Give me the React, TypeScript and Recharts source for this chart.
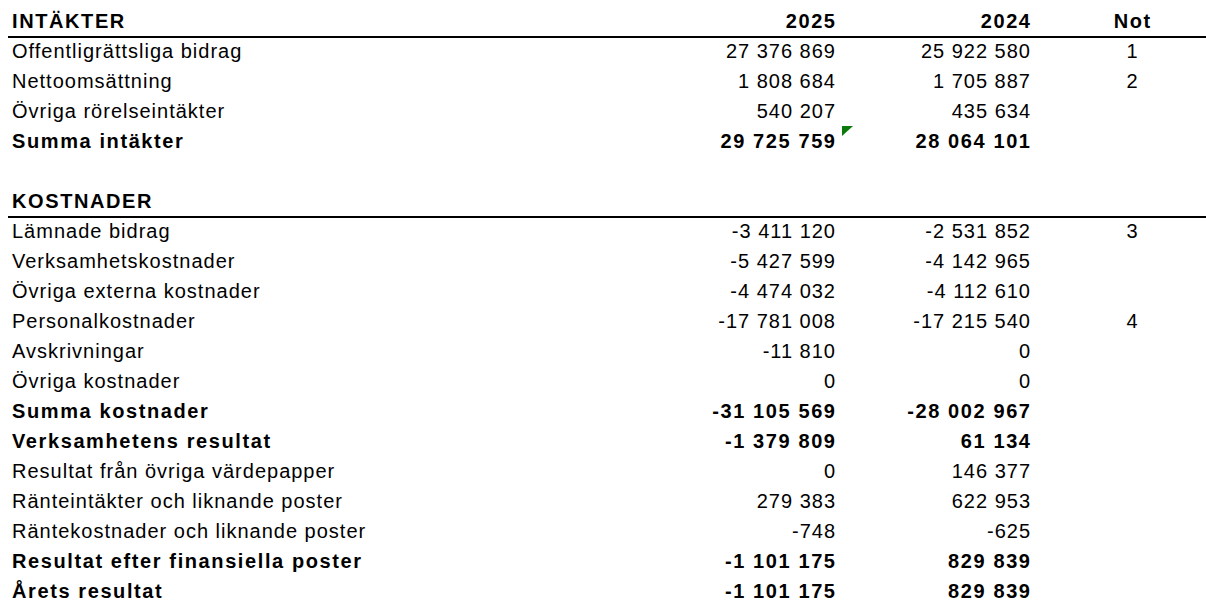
import React from "react";
import { ComposedChart, XAxis, YAxis } from "recharts";

// ---------- data ----------
const rowLabels: string[] = [
  "INTÄKTER",
  "Offentligrättsliga bidrag",
  "Nettoomsättning",
  "Övriga rörelseintäkter",
  "Summa intäkter",
  "",
  "KOSTNADER",
  "Lämnade bidrag",
  "Verksamhetskostnader",
  "Övriga externa kostnader",
  "Personalkostnader",
  "Avskrivningar",
  "Övriga kostnader",
  "Summa kostnader",
  "Verksamhetens resultat",
  "Resultat från övriga värdepapper",
  "Ränteintäkter och liknande poster",
  "Räntekostnader och liknande poster",
  "Resultat efter finansiella poster",
  "Årets resultat",
];

// header = section heading, item = ordinary row, total = summary row, blank = empty row
const rowKinds: string[] = [
  "header", "item", "item", "item", "total", "blank",
  "header", "item", "item", "item", "item", "item", "item",
  "total", "total", "item", "item", "item", "total", "total",
];

const values2025: (number | null)[] = [
  null, 27376869, 1808684, 540207, 29725759, null,
  null, -3411120, -5427599, -4474032, -17781008, -11810, 0,
  -31105569, -1379809, 0, 279383, -748, -1101175, -1101175,
];

const values2024: (number | null)[] = [
  null, 25922580, 1705887, 435634, 28064101, null,
  null, -2531852, -4142965, -4112610, -17215540, 0, 0,
  -28002967, 61134, 146377, 622953, -625, 829839, 829839,
];

const notes: (number | null)[] = [
  null, 1, 2, null, null, null,
  null, 3, null, null, 4, null, null,
  null, null, null, null, null, null, null,
];

const columnHeaders: string[] = ["2025", "2024", "Not"];

// cells carrying a (green) comment marker
const commentCells: { row: number; column: string }[] = [{ row: 4, column: "2025" }];

// ---------- helpers ----------
const fmt = (v: number | null) => {
  if (v === null || v === undefined) return "";
  const s = Math.abs(v).toString().replace(/\B(?=(\d{3})+(?!\d))/g, " ");
  return (v < 0 ? "-" : "") + s;
};

const tableData = rowLabels.map((label, i) => {
  const isTopHeader = i === 0;
  return {
    idx: i,
    label,
    kind: rowKinds[i],
    c2025: isTopHeader ? columnHeaders[0] : fmt(values2025[i]),
    c2024: isTopHeader ? columnHeaders[1] : fmt(values2024[i]),
    cNot: isTopHeader ? columnHeaders[2] : notes[i] === null ? "" : String(notes[i]),
  };
});

// ---------- styling ----------
const W = 1206;
const H = 601;
const FONT = "'Liberation Sans', Arial, Helvetica, sans-serif";
const BASE_DY = 12;
const LS_REG = 1.0;
const LS_BOLD = 1.6;

const textProps = (bold: boolean) => ({
  fontFamily: FONT,
  fontSize: 20,
  fontWeight: bold ? 700 : 400,
  letterSpacing: bold ? LS_BOLD : LS_REG,
  fill: "#000000",
});

const rowOf = (payload: any) => {
  const found = tableData.find((r) => r.idx === payload?.value);
  return found ?? tableData[payload?.index ?? 0];
};

const isBold = (kind: string) => kind === "header" || kind === "total";

const LabelTick = (props: any) => {
  const { x, y, payload } = props;
  const row = rowOf(payload);
  if (!row) return null;
  return (
    <g>
      <text x={x} y={y + BASE_DY} textAnchor="start" {...textProps(isBold(row.kind))}>
        {row.label}
      </text>
      {row.kind === "header" && (
        <line x1={x - 4} x2={W} y1={y + BASE_DY + 9} y2={y + BASE_DY + 9} stroke="#000000" strokeWidth={2} />
      )}
    </g>
  );
};

const makeValueTick = (key: "c2025" | "c2024" | "cNot", column: string, anchor: "end" | "middle") =>
  (props: any) => {
    const { x, y, payload } = props;
    const row = rowOf(payload);
    if (!row) return null;
    const bold = row.idx === 0 || row.kind === "total";
    const ls = bold ? LS_BOLD : LS_REG;
    const hasComment = commentCells.some((c) => c.row === row.idx && c.column === column);
    const base = y + BASE_DY;
    const tx = anchor === "end" ? x + ls : x + ls / 2;
    return (
      <g>
        <text x={tx} y={base} textAnchor={anchor} {...textProps(bold)}>
          {row[key]}
        </text>
        {hasComment && (
          <polygon
            points={`${x + 7},${base - 22} ${x + 18},${base - 22} ${x + 7},${base - 12}`}
            fill="#0a7a0a"
          />
        )}
      </g>
    );
  };

const Tick2025 = makeValueTick("c2025", "2025", "end");
const Tick2024 = makeValueTick("c2024", "2024", "end");
const TickNot = makeValueTick("cNot", "Not", "middle");

const commonY = {
  type: "category" as const,
  dataKey: "idx",
  orientation: "left" as const,
  axisLine: false,
  tickLine: false,
  tickSize: 0,
  tickMargin: 0,
  interval: 0 as const,
};

export default function App() {
  return (
    <div style={{ width: W, height: H, background: "#ffffff" }}>
      <style>{`body{margin:0;background:#ffffff;}`}</style>
      <ComposedChart
        width={W}
        height={H}
        data={tableData}
        layout="vertical"
        margin={{ top: 16, right: 0, bottom: 15, left: 0 }}
      >
        <XAxis type="number" hide />
        {/* axis ids sort from the plot area outward: Not, 2024, 2025, labels */}
        <YAxis {...commonY} yAxisId="a_not" width={102} tick={TickNot} />
        <YAxis {...commonY} yAxisId="b_2024" width={195} tick={Tick2024} />
        <YAxis {...commonY} yAxisId="c_2025" width={823} tick={Tick2025} />
        <YAxis {...commonY} yAxisId="d_lbl" width={12} tick={LabelTick} />
      </ComposedChart>
    </div>
  );
}
